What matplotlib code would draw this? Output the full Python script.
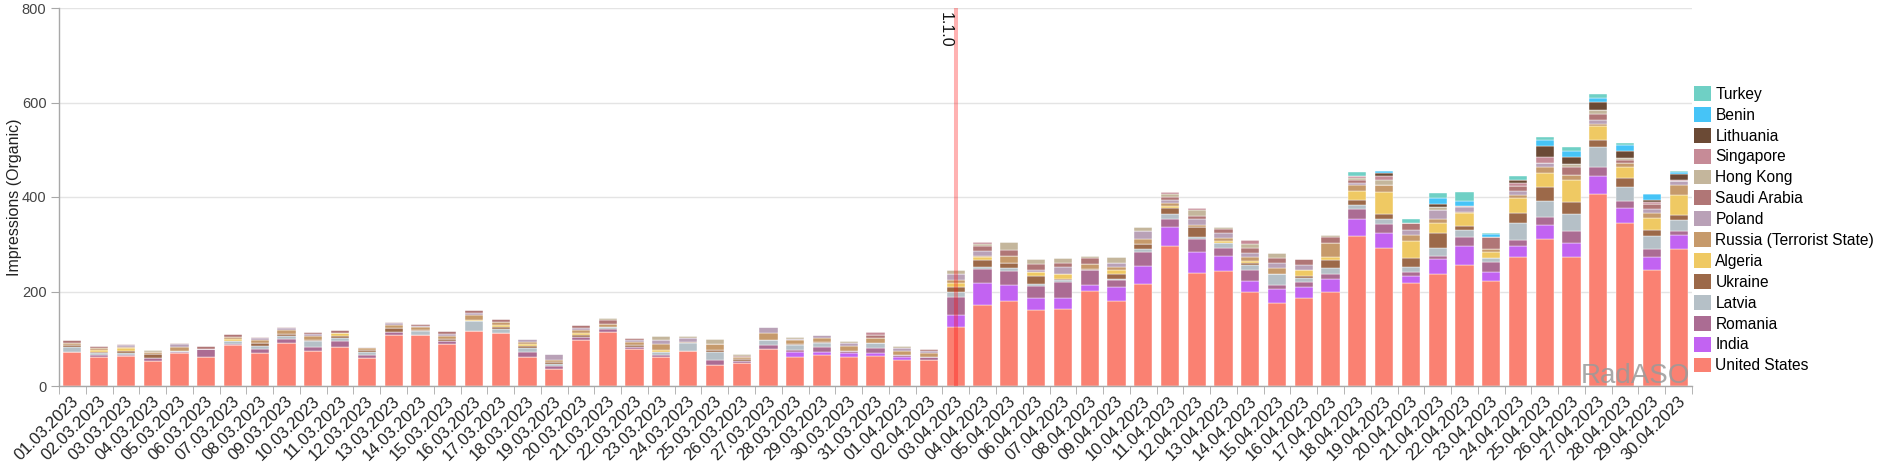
import matplotlib
matplotlib.use('Agg')
import matplotlib.pyplot as plt
import matplotlib.transforms as mtransforms
from matplotlib.patches import Patch
import numpy as np

plt.rcParams['font.family'] = ['Liberation Sans', 'DejaVu Sans']

dates = [f"{d:02d}.03.2023" for d in range(1, 32)] + [f"{d:02d}.04.2023" for d in range(1, 31)]

united_states = [73, 62, 63.5, 53.5, 69, 62, 86, 70.5, 92, 75,
                 82, 58.5, 108, 108.5, 89, 116.5, 113, 62, 36.5, 97.5,
                 115, 77.5, 62, 73.5, 44.5, 49.5, 77.5, 60.5, 65, 60.5,
                 63.5, 55, 55, 124, 171.5, 179, 161, 162, 201.5, 179,
                 216, 296, 240, 244, 199.5, 175, 185.5, 199.5, 317.5, 292.5,
                 217.5, 236.5, 255.5, 221.5, 272.5, 310.5, 272.5, 405.5, 345.5, 245.5, 289.5]
india = [0, 0, 0, 0, 0, 0, 0, 0, 0, 0,
         0, 0, 0, 0, 0, 0, 0, 0, 0, 0,
         0, 0, 0, 0, 0, 0, 0, 12.5, 7, 10,
         5.5, 7, 0, 26, 46, 34, 24.5, 23.5, 11.5, 29.5,
         38, 39.5, 43, 31, 23.5, 29.5, 23.5, 26, 35.5, 30.5,
         15.5, 31.5, 41, 19.5, 24.5, 29.5, 31, 39, 30.5, 28, 30.5]
romania = [0, 4, 2, 5, 2, 17, 3, 7, 8.5, 8.5,
           14, 7, 7, 0, 7, 0, 0, 10, 5.5, 7,
           6, 4, 4, 0, 10.5, 4, 10, 3, 10, 4,
           11, 3.5, 5.5, 39, 29.5, 31, 27, 34.5, 32.5, 15.5,
           29.5, 17.5, 27.5, 17, 22.5, 9, 12, 12.5, 22, 19.5,
           9, 8, 19.5, 22, 12, 18.5, 25.5, 19.5, 16, 17, 7]
latvia = [8.5, 4, 5, 0, 3, 0, 7, 7, 5.5, 11,
          5.5, 6, 0, 7, 0, 21, 8.5, 8.5, 4, 0,
          4, 0, 7, 17, 18, 0, 10, 10, 8.5, 0,
          10, 0, 0, 10.5, 4, 5.5, 4, 4, 0, 3.5,
          5.5, 10, 5.5, 10, 10, 23.5, 7, 12.5, 8.5, 10,
          10.5, 15.5, 14, 7, 35.5, 34, 35.5, 41, 29.5, 28, 23.5]
ukraine = [5, 3, 3, 9, 0, 0, 0, 7, 4, 3,
           4, 4, 7, 4, 4, 0, 3.5, 4, 5, 3.5,
           0, 5.5, 0, 3.5, 4, 4, 0, 3, 3.5, 0,
           0, 0, 0, 10.5, 15.5, 11.5, 16, 3.5, 3, 8.5,
           11.5, 13.5, 21, 0, 4, 0, 5, 15.5, 10.5, 12.5,
           17.5, 31.5, 8.5, 0, 22.5, 29.5, 24, 15.5, 19.5, 12.5, 12]
algeria = [0, 3, 6, 0, 0, 0, 3, 0, 0, 0,
           7, 0, 0, 0, 0, 2, 4, 4, 0, 3.5,
           0, 0, 4, 0, 0, 0, 0, 0, 0, 0,
           0, 0, 0, 7, 5.5, 0, 8.5, 10.5, 0, 9,
           0, 5.5, 0, 4, 5.5, 0, 11.5, 7, 19.5, 45,
           37.5, 22.5, 27, 14, 30.5, 29.5, 48, 29.5, 22.5, 23.5, 42.5]
russia = [3.5, 4, 3, 4, 9, 0, 5.5, 5.5, 8.5, 8.5,
          0, 4, 7, 5.5, 5.5, 10.5, 7, 5.5, 5, 7,
          7, 7, 11, 0, 11, 4, 15.5, 8.5, 7, 10,
          11, 9, 8.5, 7, 3, 14, 0, 0, 10, 7,
          11.5, 5.5, 3.5, 6.5, 7, 12, 0, 29.5, 12, 15,
          12, 7, 3.5, 5, 7, 11.5, 10, 5.5, 8.5, 12, 21]
poland = [0, 0, 4, 0, 5, 0, 0, 4, 3.5, 4,
          0, 4, 3.5, 3, 5.5, 5, 0, 5, 11, 5,
          0, 4, 10, 7, 0, 0, 12.5, 3, 6, 5.5,
          0, 5, 5.5, 14, 11, 0, 5.5, 14, 0, 8.5,
          16, 7, 12, 10.5, 8.5, 10.5, 12, 0, 5, 0,
          10.5, 21, 9, 0, 9, 10, 0, 7, 0, 9, 7]
saudi_arabia = [7, 4, 2.5, 0, 3.5, 5, 5.5, 3, 3.5, 5,
                5.5, 0, 3.5, 2.5, 5.5, 5.5, 5.5, 0, 0, 5.5,
                7, 4, 0, 0, 0, 3, 0, 0, 0, 0,
                7, 0, 3.5, 0, 10, 12.5, 12.5, 9, 12, 0,
                0, 5.5, 7, 8.5, 12.5, 10.5, 12, 12.5, 5.5, 0,
                15.5, 0, 3, 27, 10, 0, 17, 12.5, 7, 9, 0]
hong_kong = [0, 0, 0, 4, 0, 0, 0, 0, 0, 0,
             0, 0, 0, 0, 0, 0, 0, 0, 0, 0,
             5.5, 0, 7, 5, 10.5, 2.5, 0, 2.5, 0, 5,
             0, 5, 0, 8.5, 5, 17, 10.5, 9.5, 5, 11.5,
             8, 7, 12.5, 5.5, 8.5, 10.5, 0, 5.5, 3.5, 10.5,
             0, 5.5, 0, 0, 0, 0, 7, 10, 3, 0, 0]
singapore = [0, 0, 0, 0, 0, 0, 0, 0, 0, 0,
             0, 0, 0, 0, 0, 0, 0, 0, 0, 0,
             0, 0, 0, 0, 0, 0, 0, 0, 0, 0,
             5.5, 0, 0, 0, 3.5, 0, 0, 0, 0, 0,
             0, 3, 5.5, 0, 7, 0, 0, 0, 5, 9,
             0, 0, 0, 0, 5.5, 11.5, 0, 0, 0, 5, 3.5]
lithuania = [0, 0, 0, 0, 0, 0, 0, 0, 0, 0,
             0, 0, 0, 0, 0, 0, 0, 0, 0, 0,
             0, 0, 0, 0, 0, 0, 0, 0, 0, 0,
             0, 0, 0, 0, 0, 0, 0, 0, 0, 0,
             0, 0, 0, 0, 0, 0, 0, 0, 0, 5.5,
             0, 5.5, 0, 0, 7, 22.5, 14, 16, 15.5, 5, 12.5]
benin = [0, 0, 0, 0, 0, 0, 0, 0, 0, 0,
         0, 0, 0, 0, 0, 0, 0, 0, 0, 0,
         0, 0, 0, 0, 0, 0, 0, 0, 0, 0,
         0, 0, 0, 0, 0, 0, 0, 0, 0, 0,
         0, 0, 0, 0, 0, 0, 0, 0, 0, 5.5,
         0, 12.5, 11.5, 6, 0, 14, 12.5, 8, 12.5, 11.5, 4]
turkey = [0, 0, 0, 0, 0, 0, 0, 0, 0, 0,
          0, 0, 0, 0, 0, 0, 0, 0, 0, 0,
          0, 0, 0, 0, 0, 0, 0, 0, 0, 0,
          0, 0, 0, 0, 0, 0, 0, 0, 0, 0,
          0, 0, 0, 0, 0, 0, 0, 0, 8.5, 0,
          7, 11.5, 18.5, 2.5, 8.5, 5.5, 8.5, 8.5, 4, 0, 1]

series = [
    ("United States", united_states, "#fa8172"),
    ("India", india, "#c263f2"),
    ("Romania", romania, "#ab6c93"),
    ("Latvia", latvia, "#b5c0c7"),
    ("Ukraine", ukraine, "#9c6949"),
    ("Algeria", algeria, "#efc963"),
    ("Russia (Terrorist State)", russia, "#c69a6b"),
    ("Poland", poland, "#b9a1b7"),
    ("Saudi Arabia", saudi_arabia, "#b07676"),
    ("Hong Kong", hong_kong, "#c4b69c"),
    ("Singapore", singapore, "#c68b97"),
    ("Lithuania", lithuania, "#6b4a35"),
    ("Benin", benin, "#46c4f7"),
    ("Turkey", turkey, "#6fd0c5"),
]

W, H = 1878, 462
fig = plt.figure(figsize=(W / 100, H / 100), dpi=100)
ax = fig.add_axes([59 / W, 1 - 386 / H, (1692 - 59) / W, (386 - 8) / H])

x = np.arange(len(dates))
bottom = np.zeros(len(dates))
for name, vals, color in series:
    v = np.array(vals, dtype=float)
    ax.bar(x, v, 0.68, bottom=bottom, color=color, edgecolor='white', linewidth=0.3, zorder=2)
    bottom += v

ax.set_xlim(-0.5, len(dates) - 0.5)
ax.set_ylim(0, 800)
ax.set_yticks([0, 200, 400, 600, 800])
ax.set_yticklabels(['0', '200', '400', '600', '800'], fontsize=10.5, color='#444444')
ax.yaxis.grid(True, color='#e4e4e4', linewidth=1, zorder=0)
ax.set_axisbelow(True)
for s in ['top', 'right']:
    ax.spines[s].set_visible(False)
for s in ['left', 'bottom']:
    ax.spines[s].set_color('#a8a8a8')
    ax.spines[s].set_linewidth(1)
ax.tick_params(axis='y', length=6, color='#a8a8a8', pad=3)

ax.set_xticks(x)
ax.set_xticklabels(dates, rotation=45, ha='right', va='center', rotation_mode='anchor',
                   fontsize=12, color='#222222')
ax.tick_params(axis='x', which='major', length=0, pad=9)
ax.set_xticks(np.arange(len(dates) + 1) - 0.5, minor=True)
ax.tick_params(axis='x', which='minor', length=6, color='#a8a8a8')
off = mtransforms.ScaledTranslation(4 / 100, 0, fig.dpi_scale_trans)
for lab in ax.get_xticklabels():
    lab.set_transform(lab.get_transform() + off)

ax.set_ylabel('Impressions (Organic)', fontsize=11.5, color='#222222')
ax.yaxis.set_label_coords((22 - 59) / (1692 - 59), 0.5)

# release marker
rel_idx = dates.index("03.04.2023")
ax.axvline(rel_idx, color='#ff0000', alpha=0.3, linewidth=2.9, zorder=5)
txt_off = mtransforms.ScaledTranslation(-3 / 100, -4 / 100, fig.dpi_scale_trans)
ax.text(rel_idx, 800, '1.1.0', rotation=-90, ha='right', va='top', fontsize=11.5,
        color='#111111', transform=ax.transData + txt_off, zorder=6)

# watermark
fig.text(1690 / W, 1 - 383 / H, 'RadASO', ha='right', va='baseline', fontsize=20,
         color='#9a9a9a', alpha=0.85, zorder=10)

handles = [Patch(facecolor=c, edgecolor='none', label=n) for n, _, c in series][::-1]
ax.legend(handles=handles, loc='upper left', bbox_to_anchor=(1694 / W, 1 - 86 / H),
          bbox_transform=fig.transFigure, frameon=False, fontsize=11.2,
          handlelength=1.1, handleheight=1.1, handletextpad=0.27,
          labelspacing=0.33, borderpad=0, borderaxespad=0)

fig.savefig('out.png', dpi=100)
